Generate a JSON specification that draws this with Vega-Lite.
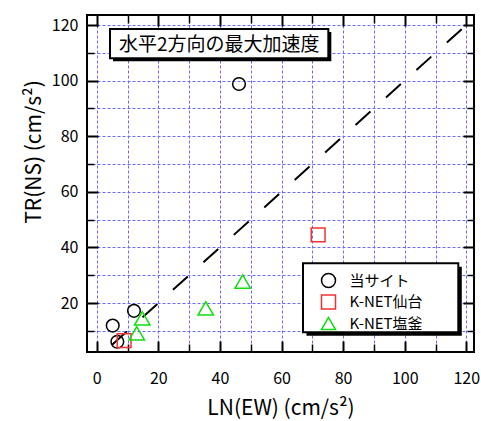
{
  "$schema": "https://vega.github.io/schema/vega-lite/v6.json",
  "width": 387,
  "height": 337,
  "autosize": "none",
  "padding": {"left": 87, "top": 15, "right": 7, "bottom": 69},
  "background": "white",
  "config": {
    "view": {"stroke": "#000000", "strokeWidth": 2},
    "font": "Noto Sans CJK JP",
    "axis": {
      "domain": false, "grid": false, "labels": false, "ticks": true,
      "tickColor": "#000000", "tickWidth": 2, "tickSize": -11,
      "labelFont": "Noto Sans CJK JP", "labelFontSize": 16, "labelColor": "#000000",
      "titleFont": "Noto Sans CJK JP", "titleFontSize": 21, "titleFontWeight": "normal", "titleColor": "#000000"
    },
    "legend": {
      "orient": "none", "legendX": 233.5, "legendY": 257.5, "padding": 0,
      "symbolSize": 196, "symbolStrokeWidth": 1.5,
      "labelFont": "Noto Sans CJK JP", "labelFontSize": 15, "labelColor": "#000000",
      "labelOffset": 13, "rowPadding": 1.5
    }
  },
  "datasets": {
    "pts": [
      {"site": "当サイト", "ew": 46.2, "ns": 98.8},
      {"site": "当サイト", "ew": 12.1, "ns": 17.2},
      {"site": "当サイト", "ew": 5.2, "ns": 11.9},
      {"site": "当サイト", "ew": 6.7, "ns": 6.1},
      {"site": "K-NET仙台", "ew": 71.9, "ns": 44.5},
      {"site": "K-NET仙台", "ew": 8.9, "ns": 6.5},
      {"site": "K-NET塩釜", "ew": 47.4, "ns": 27.7},
      {"site": "K-NET塩釜", "ew": 35.4, "ns": 18.1},
      {"site": "K-NET塩釜", "ew": 14.8, "ns": 14.5},
      {"site": "K-NET塩釜", "ew": 13.0, "ns": 9.1}
    ]
  },
  "layer": [
    {
      "data": {"values": [{}]},
      "mark": {"type": "rect", "fill": "#000000", "xOffset": 3.5, "x2Offset": 3.5, "yOffset": 3.5, "y2Offset": 3.5},
      "encoding": {
        "x": {"datum": 66.98, "type": "quantitative", "scale": {"domain": [-3.15, 122.5], "nice": false, "zero": false},
          "axis": {"orient": "bottom", "values": [0,10,20,30,40,50,60,70,80,90,100,110,120], "grid": true, "gridColor": "#6a6aff", "gridDash": [3,2], "gridWidth": 1, "ticks": false, "labels": false, "title": null}},
        "x2": {"datum": 117.4},
        "y": {"datum": 34.3, "type": "quantitative", "scale": {"domain": [2.4, 123.6], "nice": false, "zero": false},
          "axis": {"orient": "left", "values": [10,20,30,40,50,60,70,80,90,100,110,120], "grid": true, "gridColor": "#6a6aff", "gridDash": [3,2], "gridWidth": 1, "ticks": false, "labels": false, "title": null}},
        "y2": {"datum": 9.48}
      }
    },
    {
      "data": {"values": [{}]},
      "mark": {"type": "rect", "fill": "#ffffff", "stroke": "#000000", "strokeWidth": 2},
      "encoding": {
        "x": {"datum": 66.98, "type": "quantitative", "scale": {"domain": [-3.15, 122.5], "nice": false, "zero": false},
          "axis": {"orient": "bottom", "values": [0,20,40,60,80,100,120], "labels": true, "labelPadding": 29.7,
            "title": "LN(EW) (cm/s²)", "titleY": 62, "titleBaseline": "alphabetic"}},
        "x2": {"datum": 117.4},
        "y": {"datum": 34.3, "type": "quantitative", "scale": {"domain": [2.4, 123.6], "nice": false, "zero": false},
          "axis": {"orient": "left", "values": [20,40,60,80,100,120], "labels": true, "labelPadding": 20,
            "title": "TR(NS) (cm/s²)", "titleX": -47, "titleY": 136.5, "titleBaseline": "alphabetic", "titleAlign": "center", "titleAngle": 270}},
        "y2": {"datum": 9.48}
      }
    },
    {
      "data": {"values": [{}]},
      "mark": {"type": "rect", "fill": "#000000", "xOffset": 3, "x2Offset": 3, "yOffset": 3, "y2Offset": 3},
      "encoding": {
        "x": {"datum": 4.32, "type": "quantitative", "scale": {"domain": [-3.15, 122.5], "nice": false, "zero": false},
          "axis": {"orient": "top", "values": [0,20,40,60,80,100,120], "labels": false, "title": null}},
        "x2": {"datum": 75.2},
        "y": {"datum": 118.57, "type": "quantitative", "scale": {"domain": [2.4, 123.6], "nice": false, "zero": false},
          "axis": {"orient": "right", "values": [20,40,60,80,100,120], "labels": false, "title": null}},
        "y2": {"datum": 108.03}
      }
    },
    {
      "data": {"values": [{}]},
      "mark": {"type": "rect", "fill": "#ffffff", "stroke": "#000000", "strokeWidth": 2},
      "encoding": {
        "x": {"datum": 4.32, "type": "quantitative", "scale": {"domain": [-3.15, 122.5], "nice": false, "zero": false},
          "axis": {"orient": "bottom", "values": [10,30,50,70,90,110], "labels": false, "title": null, "tickSize": -8, "tickWidth": 1.5}},
        "x2": {"datum": 75.2},
        "y": {"datum": 118.57, "type": "quantitative", "scale": {"domain": [2.4, 123.6], "nice": false, "zero": false},
          "axis": {"orient": "left", "values": [10,30,50,70,90,110], "labels": false, "title": null, "tickSize": -7, "tickWidth": 1.5}},
        "y2": {"datum": 108.03}
      }
    },
    {
      "data": {"values": [{}]},
      "mark": {"type": "text", "text": "水平2方向の最大加速度", "font": "Noto Sans CJK JP", "fontSize": 19, "color": "#000000", "align": "center", "baseline": "middle"},
      "encoding": {
        "x": {"datum": 39.77, "type": "quantitative", "scale": {"domain": [-3.15, 122.5], "nice": false, "zero": false},
          "axis": {"orient": "top", "values": [10,30,50,70,90,110], "labels": false, "title": null, "tickSize": -8, "tickWidth": 1.5}},
        "y": {"datum": 112.8, "type": "quantitative", "scale": {"domain": [2.4, 123.6], "nice": false, "zero": false},
          "axis": {"orient": "right", "values": [10,30,50,70,90,110], "labels": false, "title": null, "tickSize": -7, "tickWidth": 1.5}}
      }
    },
    {
      "data": {"values": [{}]},
      "mark": {"type": "rule", "color": "#000000", "strokeWidth": 2, "strokeDash": [20, 21]},
      "encoding": {
        "x": {"datum": 5, "type": "quantitative", "scale": {"domain": [-3.15, 122.5], "nice": false, "zero": false}, "axis": null},
        "y": {"datum": 5, "type": "quantitative", "scale": {"domain": [2.4, 123.6], "nice": false, "zero": false}, "axis": null},
        "x2": {"datum": 120},
        "y2": {"datum": 120}
      }
    },
    {
      "data": {"name": "pts"},
      "mark": {"type": "point", "filled": false, "strokeWidth": 1.5, "opacity": 1},
      "encoding": {
        "x": {"field": "ew", "type": "quantitative", "scale": {"domain": [-3.15, 122.5], "nice": false, "zero": false}, "axis": null},
        "y": {"field": "ns", "type": "quantitative", "scale": {"domain": [2.4, 123.6], "nice": false, "zero": false}, "axis": null},
        "color": {"field": "site", "type": "nominal",
          "scale": {"domain": ["当サイト", "K-NET仙台", "K-NET塩釜"], "range": ["#000000", "#ee3333", "#11dd11"]},
          "legend": {"title": null}},
        "shape": {"field": "site", "type": "nominal",
          "scale": {"domain": ["当サイト", "K-NET仙台", "K-NET塩釜"], "range": ["circle", "square", "triangle-up"]},
          "legend": {"title": null}},
        "size": {"condition": [{"test": "datum.site === '当サイト'", "value": 160}, {"test": "datum.site === 'K-NET塩釜'", "value": 240}], "value": 190}
      }
    }
  ],
  "resolve": {"axis": {"x": "independent", "y": "independent"}}
}
